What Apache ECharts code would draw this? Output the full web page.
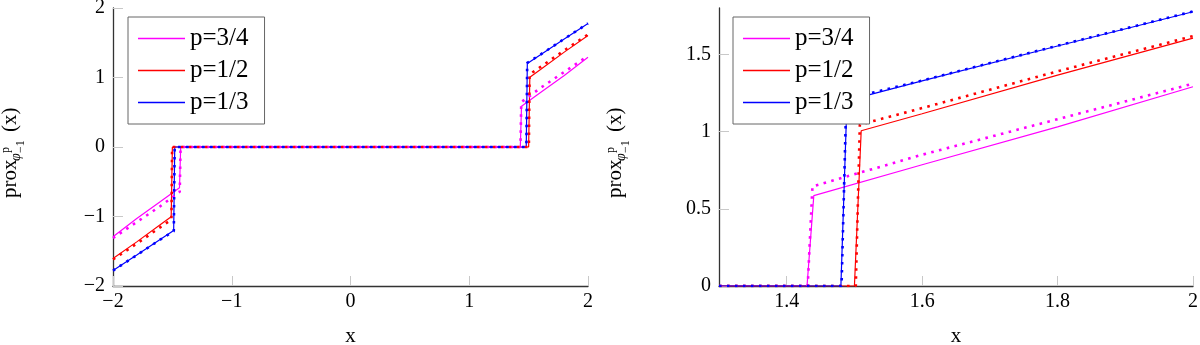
<!DOCTYPE html>
<html>
<head>
<meta charset="utf-8">
<script src="https://cdn.jsdelivr.net/npm/echarts@6/dist/echarts.min.js"></script>
<style>
  html, body { margin: 0; padding: 0; background: #fff; }
  #chart { width: 1200px; height: 345px; }
</style>
</head>
<body>
<div id="chart"></div>
<script>
var FONT = "Liberation Serif";

var seriesNames = ["p=3/4", "p=1/2", "p=1/3"];
var seriesColors = ["#ff00ff", "#ff0000", "#0000ff"];

// left panel (x in [-2, 2]) : solid curves
var leftX_34 = [-2, -1.8, -1.6, -1.44, -1.43, 1.43, 1.44, 1.6, 1.8, 2];
var leftY_34 = [-1.29, -1.03, -0.785, -0.585, 0, 0, 0.585, 0.785, 1.03, 1.29];
var leftX_12 = [-2, -1.8, -1.6, -1.51, -1.50, 1.50, 1.51, 1.6, 1.8, 2];
var leftY_12 = [-1.605, -1.365, -1.115, -1.005, 0, 0, 1.005, 1.115, 1.365, 1.605];
var leftX_13 = [-2, -1.8, -1.6, -1.489, -1.48, 1.48, 1.489, 1.6, 1.8, 2];
var leftY_13 = [-1.776, -1.554, -1.328, -1.2, 0, 0, 1.2, 1.328, 1.554, 1.776];
// left panel : dotted curves
var leftXd_34 = [-2, -1.8, -1.6, -1.438, -1.431, 1.431, 1.438, 1.6, 1.8, 2];
var leftYd_34 = [-1.31, -1.08, -0.85, -0.645, 0, 0, 0.645, 0.85, 1.08, 1.31];
var leftXd_12 = [-2, -1.8, -1.6, -1.508, -1.502, 1.502, 1.508, 1.6, 1.8, 2];
var leftYd_12 = [-1.618, -1.39, -1.152, -1.045, 0, 0, 1.045, 1.152, 1.39, 1.618];
var leftXd_13 = [-2, -1.8, -1.6, -1.488, -1.481, 1.481, 1.488, 1.6, 1.8, 2];
var leftYd_13 = [-1.778, -1.556, -1.33, -1.21, 0, 0, 1.21, 1.33, 1.556, 1.778];

// right panel (zoom, x in [1.3, 2]) : solid curves
var rightX_34 = [1.3, 1.43, 1.44, 1.6, 1.8, 2];
var rightY_34 = [0, 0, 0.585, 0.785, 1.03, 1.29];
var rightX_12 = [1.3, 1.50, 1.51, 1.6, 1.8, 2];
var rightY_12 = [0, 0, 1.005, 1.115, 1.365, 1.605];
var rightX_13 = [1.3, 1.48, 1.489, 1.6, 1.8, 2];
var rightY_13 = [0, 0, 1.2, 1.328, 1.554, 1.776];
// right panel : dotted curves
var rightXd_34 = [1.3, 1.431, 1.438, 1.6, 1.8, 2];
var rightYd_34 = [0, 0, 0.645, 0.85, 1.08, 1.31];
var rightXd_12 = [1.3, 1.502, 1.508, 1.6, 1.8, 2];
var rightYd_12 = [0, 0, 1.045, 1.152, 1.39, 1.618];
var rightXd_13 = [1.3, 1.481, 1.488, 1.6, 1.8, 2];
var rightYd_13 = [0, 0, 1.21, 1.33, 1.556, 1.778];

// ticks
var leftXTicks = [-2, -1, 0, 1, 2];
var leftYTicks = [-2, -1, 0, 1, 2];
var rightXTicks = [1.4, 1.6, 1.8, 2];
var rightYTicks = [0, 0.5, 1, 1.5];

function zip(xs, ys) {
  return xs.map(function (x, i) { return [x, ys[i]]; });
}

function fmt(v) {
  return v < 0 ? "\u2212" + Math.abs(v) : String(v);
}

function solid(i, xs, ys, idx) {
  return {
    name: seriesNames[i], type: "line", xAxisIndex: idx, yAxisIndex: idx,
    data: zip(xs, ys), symbol: "none", silent: true, z: 2,
    itemStyle: { color: seriesColors[i] },
    lineStyle: { color: seriesColors[i], width: 1.2 }
  };
}

function dotted(i, xs, ys, idx) {
  return {
    name: seriesNames[i] + " dotted", type: "line", xAxisIndex: idx, yAxisIndex: idx,
    data: zip(xs, ys), symbol: "none", silent: true, z: 3,
    itemStyle: { color: seriesColors[i] },
    lineStyle: { color: seriesColors[i], width: 2.6, type: [2.6, 5.4], cap: "butt" }
  };
}

function xAxis(grid, min, max, ticks) {
  return {
    gridIndex: grid, type: "value", min: min, max: max,
    name: "x", nameLocation: "middle", nameGap: 40,
    nameTextStyle: { fontFamily: FONT, fontSize: 21, color: "#000" },
    axisLine: { show: true, onZero: false, lineStyle: { color: "#333", width: 1.3 } },
    axisTick: { show: true, inside: true, length: 10, customValues: ticks, lineStyle: { color: "#c8c8c8", width: 1 } },
    axisLabel: { customValues: ticks, formatter: fmt, fontFamily: FONT, fontSize: 20, color: "#000", margin: 6 },
    splitLine: { show: false }
  };
}

function yAxis(grid, min, max, ticks) {
  return {
    gridIndex: grid, type: "value", min: min, max: max,
    axisLine: { show: true, onZero: false, lineStyle: { color: "#333", width: 1.3 } },
    axisTick: { show: true, inside: true, length: 10, customValues: ticks, lineStyle: { color: "#c8c8c8", width: 1 } },
    axisLabel: { customValues: ticks, formatter: fmt, fontFamily: FONT, fontSize: 20, color: "#000", margin: 8 },
    splitLine: { show: false }
  };
}

function legend(left) {
  return {
    left: left, top: 17, orient: "vertical", data: seriesNames,
    icon: "rect", itemWidth: 47, itemHeight: 1.5, itemGap: 7,
    padding: [9, 16, 9, 10], borderColor: "#666", borderWidth: 1,
    backgroundColor: "#fff", selectedMode: false,
    textStyle: { fontFamily: FONT, fontSize: 25, color: "#000", lineHeight: 24 }
  };
}

// rotated y-axis name: prox_{phi^p_{-1}}(x)
function yName(x) {
  function t(txt, u, v, size, italic) {
    return {
      type: "text", x: u, y: v,
      style: { text: txt, fontFamily: FONT, fontSize: size, fontStyle: italic ? "italic" : "normal",
               fill: "#000", align: "left", verticalAlign: "middle" }
    };
  }
  return {
    type: "group", x: x, y: 198, rotation: Math.PI / 2,
    children: [
      t("prox", 0, -5, 21),
      t("\u03c6", 37, 1, 14, true),
      t("p", 45, -9, 12),
      t("\u22121", 45, 6, 12),
      t("(x)", 66, -5, 21)
    ]
  };
}

var myChart = echarts.init(document.getElementById("chart"));

var option = {
  animation: false,
  backgroundColor: "#fff",
  grid: [
    { left: 113, top: 8, width: 475, height: 278, outerBoundsMode: "none" },
    { left: 719, top: 8, width: 474, height: 278, outerBoundsMode: "none" }
  ],
  xAxis: [xAxis(0, -2, 2, leftXTicks), xAxis(1, 1.3, 2, rightXTicks)],
  yAxis: [yAxis(0, -2, 2, leftYTicks), yAxis(1, 0, 1.8, rightYTicks)],
  legend: [legend(128), legend(733)],
  graphic: [yName(15), yName(620)],
  series: [
    solid(0, leftX_34, leftY_34, 0),
    solid(1, leftX_12, leftY_12, 0),
    solid(2, leftX_13, leftY_13, 0),
    dotted(0, leftXd_34, leftYd_34, 0),
    dotted(1, leftXd_12, leftYd_12, 0),
    dotted(2, leftXd_13, leftYd_13, 0),
    solid(0, rightX_34, rightY_34, 1),
    solid(1, rightX_12, rightY_12, 1),
    solid(2, rightX_13, rightY_13, 1),
    dotted(0, rightXd_34, rightYd_34, 1),
    dotted(1, rightXd_12, rightYd_12, 1),
    dotted(2, rightXd_13, rightYd_13, 1)
  ]
};

myChart.setOption(option);
window.addEventListener("resize", function () {
  myChart.resize();
});
</script>
</body>
</html>
